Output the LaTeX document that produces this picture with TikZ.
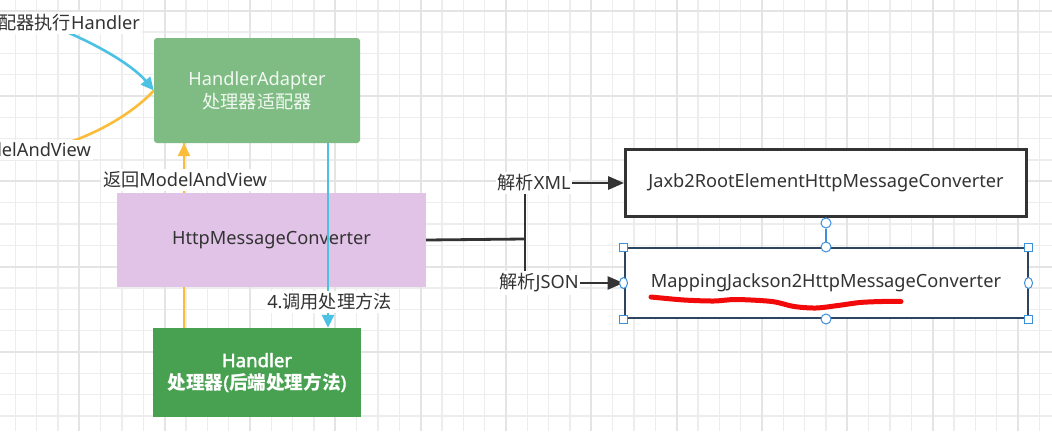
\documentclass[tikz,border=0pt]{standalone}
\usepackage{fontspec}
\setmainfont{Noto Sans}[AutoFakeBold=2.2]
\newfontfamily\cjk{Noto Sans CJK SC}
\usetikzlibrary{arrows.meta,shapes.geometric}
\pgfdeclarelayer{gridlayer}
\pgfdeclarelayer{bg}
\pgfsetlayers{gridlayer,bg,main}
\definecolor{adfill}{HTML}{7EBC83}
\definecolor{adtext}{HTML}{F2F8F2}
\definecolor{hmcfill}{HTML}{E2C3E8}
\definecolor{hdfill}{HTML}{47A150}
\definecolor{txt}{HTML}{333333}
\definecolor{bluearr}{HTML}{4BC1E4}
\definecolor{orangearr}{HTML}{FBBC3A}
\definecolor{dark}{HTML}{333333}
\definecolor{selbord}{HTML}{2E4560}
\definecolor{handleblue}{HTML}{3D8FDC}
\definecolor{gridminor}{HTML}{EDEDED}
\definecolor{gridmajor}{HTML}{E4E4E4}
\definecolor{squig}{HTML}{F20A0A}
\newcommand{\zh}[1]{{\cjk #1}}
\begin{document}
\begin{tikzpicture}[x=1pt,y=-1pt,
  every node/.style={font=\fontsize{18.2}{23}\selectfont, inner sep=0pt, text=txt},
  lbl/.style={fill=white, inner xsep=2pt, inner ysep=3pt},
  bluel/.style={draw=bluearr, line width=2.6pt},
  orangel/.style={draw=orangearr, line width=2.6pt},
  darkl/.style={draw=dark, line width=2.8pt},
  tipA/.style={-{Triangle[length=13pt,width=12pt]}},
  tipB/.style={-{Triangle[length=16pt,width=13pt]}},
  hsq/.style={draw=handleblue, fill=white, line width=1pt, minimum size=8pt, inner sep=0pt},
  hci/.style={draw=handleblue, fill=white, line width=1pt, circle, minimum size=10pt, inner sep=0pt},
  hel/.style={draw=handleblue, fill=white, line width=1pt, ellipse, minimum width=8pt, minimum height=11pt, inner sep=0pt},
]
\useasboundingbox (0,0) rectangle (1052,431);
% grid
\begin{pgfonlayer}{gridlayer}
  \fill[white] (0,0) rectangle (1052,431);
  \foreach \i in {0,...,50}{
    \draw[gridminor, line width=1.2pt] ({-6.03+21.333*\i},0) -- ++(0,431);
  }
  \foreach \i in {0,...,20}{
    \draw[gridminor, line width=1.2pt] (0,{10.7+21.333*\i}) -- ++(1052,0);
  }
  \foreach \i in {0,...,12}{
    \draw[gridmajor, line width=1.8pt] ({-6.03+85.333*\i},0) -- ++(0,431);
  }
  \foreach \i in {0,...,5}{
    \draw[gridmajor, line width=1.8pt] (0,{10.7+85.333*\i}) -- ++(1052,0);
  }
\end{pgfonlayer}

% main boxes
\node[fill=adfill, rounded corners=3pt, minimum width=206pt, minimum height=105pt, align=center, text=adtext]
  (adapter) at (257,90.5) {HandlerAdapter\\\zh{处理器适配器}};
\node[fill=hmcfill, minimum width=309pt, minimum height=94pt]
  (hmc) at (271.5,240) {HttpMessageConverter};
\node[fill=hdfill, minimum width=208pt, minimum height=89pt, align=center, text=white,
  font=\fontsize{18.6}{22}\selectfont\bfseries]
  (handler) at (257,372.5) {Handler\\\zh{处理器}(\zh{后端处理方法})};
\node[draw=dark, line width=2.8pt, fill=white, minimum width=401pt, minimum height=67pt]
  (jaxb) at (826,183) {Jaxb2RootElementHttpMessageConverter};
\node[draw=selbord, line width=2pt, fill=white, minimum width=403pt, minimum height=70pt]
  (mapping) at (826,283) {MappingJackson2HttpMessageConverter};

\coordinate (ox) at (184,0);
\coordinate (bx) at (328,0);
\coordinate (junc) at (525,239);
\coordinate (jx) at (525,183);
\coordinate (jj) at (525,283);
\coordinate (bstart) at (62,30);
\coordinate (ostart) at (70,142);

% lines under labels
\begin{pgfonlayer}{bg}
  \draw[orangel] (handler.north -| ox) -- (adapter.south -| ox);
  \draw[bluel, tipA] (bstart) .. controls (105,48) and (135,68) .. (adapter.west);
  \draw[orangel] (adapter.west) .. controls (140,106) and (110,128) .. (ostart);
  \draw[darkl] (hmc.east) -- (junc);
  \draw[darkl] (jx) -- (jj);
\end{pgfonlayer}

% orange arrow head on top segment
\draw[orangel, tipA] (hmc.north -| ox) -- (adapter.south -| ox);
% blue line over the converter
\draw[bluel, tipA] (adapter.south -| bx) -- (handler.north -| bx);

% labels
\node[lbl, anchor=east] (tl) at (142,23) {\zh{适配器执行}Handler};
\node[lbl, anchor=east] (ml) at (93,150) {ModelAndView};
\node[lbl] (ret) at (185,180) {\zh{返回}ModelAndView};
\node[lbl] (call) at (329.5,302) {4.\zh{调用处理方法}};
\node[lbl, inner xsep=1pt] (xml) at (534,183) {\zh{解析}XML};
\node[lbl, inner xsep=1pt] (json) at (539,283) {\zh{解析}JSON};

\draw[darkl, tipB] (xml.east) -- (jaxb.west);
\draw[darkl, tipB] (json.east) -- (mapping.west);

% selection handles
\node[hci] (rot) at (826,223) {};
\draw[handleblue, line width=1.2pt] (rot.south) -- (mapping.north);
\node[hsq] at (mapping.north west) {};
\node[hsq] at (mapping.north east) {};
\node[hsq] at (mapping.south west) {};
\node[hsq] at (mapping.south east) {};
\node[hci] at (mapping.north) {};
\node[hci] at (mapping.south) {};
\node[hel] at (mapping.west) {};
\node[hel] at (mapping.east) {};

% red squiggle
\draw[squig, line width=5pt, line cap=round, line join=round] plot[smooth] coordinates
  {(651,297) (684,300) (714,301) (736,299.5) (772,301.5) (794,306.5) (816,308) (838,305.5) (860,302.5) (882,301.5) (901,301.5)};
\end{tikzpicture}
\end{document}
